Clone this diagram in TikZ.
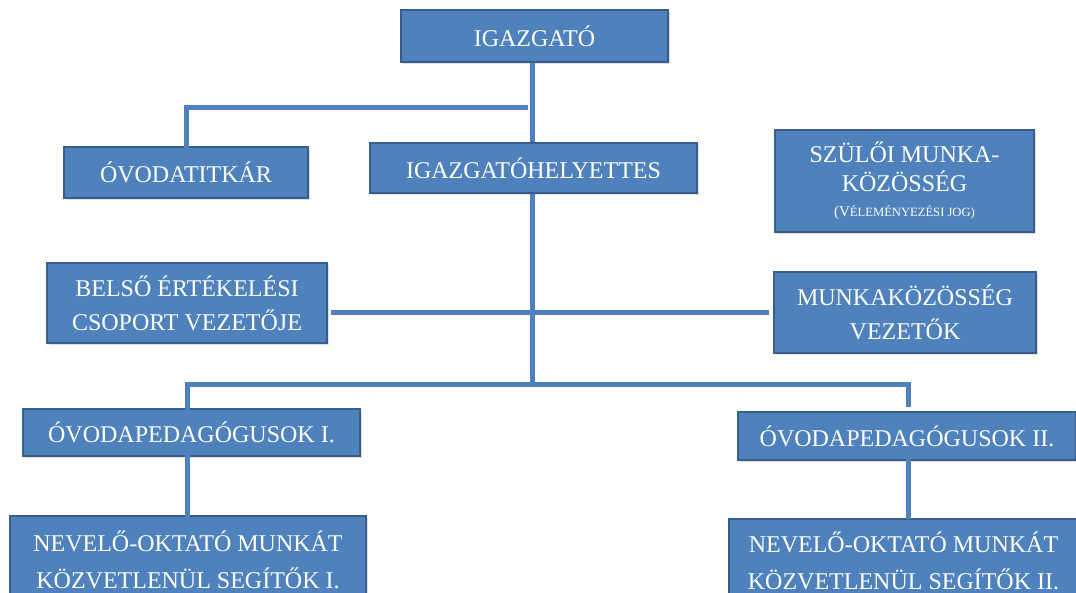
\documentclass[tikz,border=0pt]{standalone}
\usepackage{fontspec}
\setmainfont{Liberation Serif}
\usetikzlibrary{shadows}

\definecolor{boxblue}{HTML}{4F81BD}
\definecolor{boxline}{HTML}{385D8A}

\tikzset{
  unit/.style={draw=boxline, line width=0.8pt, fill=boxblue, text=white,
    align=center, inner sep=0pt, font=\fontsize{12}{17}\selectfont,
    drop shadow={shadow xshift=1pt, shadow yshift=-1pt, opacity=0.25}},
  conn/.style={boxblue, line width=2.5pt}
}

\begin{document}
\begin{tikzpicture}[x=0.5pt, y=-0.5pt]
\useasboundingbox (0,0) rectangle (1076,593);

% Leadership
\node[unit, minimum width=133.5pt, minimum height=26pt] (igazgato) at (534.5,36) {IGAZGATÓ};
\node[unit, minimum width=122pt, minimum height=25.5pt] (titkar) at (186,172.5) {ÓVODATITKÁR};
\node[unit, minimum width=163.5pt, minimum height=25pt] (helyettes) at (533.5,168) {IGAZGATÓHELYETTES};
\node[unit, minimum width=129.5pt, minimum height=51pt, font=\fontsize{12}{14.2}\selectfont] (szuloi) at (904.5,181)
  {SZÜLŐI MUNKA-\\KÖZÖSSÉG\\[-1.5pt]{\fontsize{7.5}{9}\selectfont(V\fontsize{6.3}{9}\selectfont ÉLEMÉNYEZÉSI JOG)}};

% Middle level
\node[unit, minimum width=140pt, minimum height=40pt] (belso) at (187,303) {BELSŐ ÉRTÉKELÉSI\\CSOPORT VEZETŐJE};
\node[unit, minimum width=131pt, minimum height=40.5pt] (munka) at (905,312.5) {MUNKAKÖZÖSSÉG\\VEZETŐK};

% Groups
\node[unit, minimum width=168.5pt, minimum height=23.5pt] (ovi1) at (191.5,432.5) {ÓVODAPEDAGÓGUSOK I.};
\node[unit, minimum width=169pt, minimum height=24pt] (ovi2) at (907,436) {ÓVODAPEDAGÓGUSOK II.};
\node[unit, minimum width=178pt, minimum height=44pt, font=\fontsize{12}{18.5}\selectfont] (segito1) at (188,560) {NEVELŐ-OKTATÓ MUNKÁT\\KÖZVETLENÜL SEGÍTŐK I.};
\node[unit, minimum width=174.5pt, minimum height=42pt, font=\fontsize{12}{18.5}\selectfont] (segito2) at (903.5,561) {NEVELŐ-OKTATÓ MUNKÁT\\KÖZVETLENÜL SEGÍTŐK II.};

% Connectors
\coordinate (fork1) at (528,108);
\coordinate (fork2) at (532,384);
\draw[conn] (igazgato.south -| 532,0) -- (helyettes.north -| 532,0);
\draw[conn] (fork1) -| ([yshift=-3.5pt]titkar.north);
\draw[conn] ([xshift=1.5pt]belso.east |- munka.west) -- ([xshift=-2pt]munka.west);
\draw[conn] (helyettes.south -| 532,0) -- (fork2);
\draw[conn] (fork2) -| (187,415);
\draw[conn] (fork2) -| (908,407);
\draw[conn] ([yshift=2pt]ovi1.south -| 187,0) -- ([yshift=-3pt]segito1.north -| 187,0);
\draw[conn] ([yshift=1pt]ovi2.south -| 908,0) -- ([yshift=-0.5pt]segito2.north -| 908,0);

\end{tikzpicture}
\end{document}
